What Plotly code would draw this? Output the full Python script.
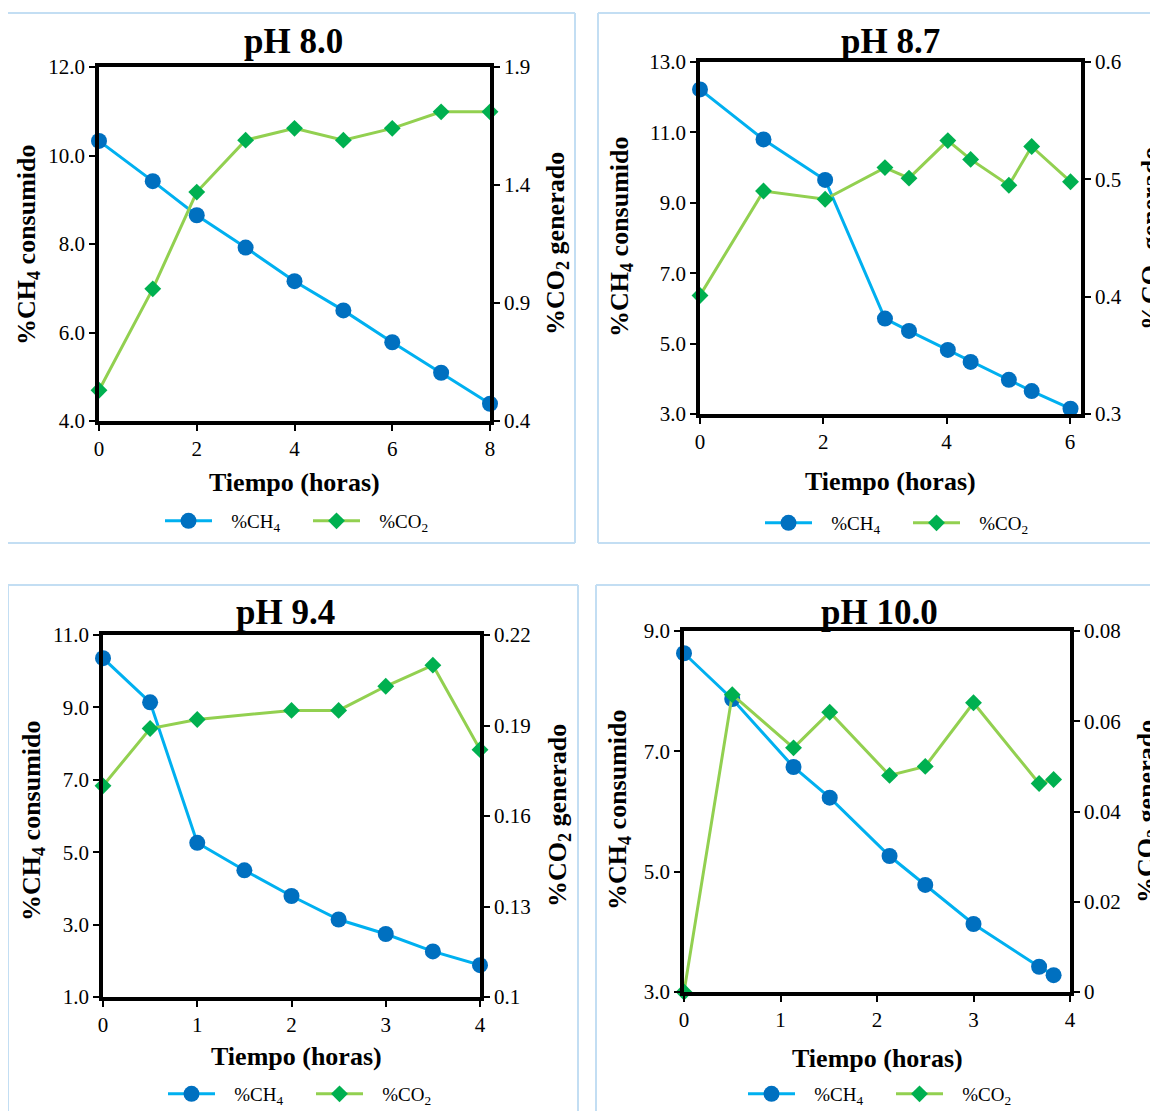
import plotly.graph_objects as go

# ---------------- data ----------------
# pH 8.0
t80 = [0, 1.1, 2, 3, 4, 5, 6, 7, 8]
ch4_80 = [10.33, 9.42, 8.65, 7.92, 7.16, 6.50, 5.78, 5.09, 4.39]
co2_80 = [0.53, 0.96, 1.37, 1.59, 1.64, 1.59, 1.64, 1.71, 1.71]

# pH 8.7
t87 = [0, 1.03, 2.03, 3.0, 3.39, 4.02, 4.39, 5.01, 5.38, 6.01]
ch4_87 = [12.22, 10.80, 9.65, 5.71, 5.36, 4.82, 4.48, 3.97, 3.65, 3.15]
co2_87 = [0.401, 0.490, 0.483, 0.510, 0.501, 0.533, 0.517, 0.495, 0.528, 0.498]

# pH 9.4
t94_ch4 = [0, 0.5, 1, 1.5, 2, 2.5, 3, 3.5, 4]
ch4_94 = [10.36, 9.14, 5.26, 4.50, 3.79, 3.14, 2.74, 2.26, 1.88]
t94_co2 = [0, 0.5, 1, 2, 2.5, 3, 3.5, 4]
co2_94 = [0.170, 0.189, 0.192, 0.195, 0.195, 0.203, 0.210, 0.182]

# pH 10.0
t100 = [0, 0.5, 1.135, 1.51, 2.13, 2.5, 3.0, 3.68, 3.83]
ch4_100 = [8.63, 7.87, 6.74, 6.23, 5.26, 4.78, 4.13, 3.42, 3.28]
co2_100 = [0.0, 0.0659, 0.0541, 0.062, 0.048, 0.050, 0.0641, 0.0462, 0.0471]

titles = ["pH 8.0", "pH 8.7", "pH 9.4", "pH 10.0"]
ch4_name = "%CH<sub>4</sub>"
co2_name = "%CO<sub>2</sub>"
xlabel = "Tiempo (horas)"
ylabel_l = "%CH<sub>4</sub> consumido"
ylabel_r = "%CO<sub>2</sub> generado"

# ---------------- layout helpers ----------------
OFF = 8  # page body margin offset
W, H = 1158 - OFF, 1111 - OFF
FONT = "Liberation Serif, Times New Roman, serif"
def px(x): return (x - OFF) / W
def py(y): return 1 - (y - OFF) / H

CH4_LINE, CH4_MARK = "#00B0F0", "#0070C0"
CO2_LINE, CO2_MARK = "#92D050", "#00B050"
BOX_COLOR = "#C3DEF3"
NBSP = "\u00a0\u00a0\u00a0"

panels = [
    dict(t_ch4=t80, ch4=ch4_80, t_co2=t80, co2=co2_80,
         plot=(99, 490, 67, 421), xr=[0, 8], xd=2,
         yl=[4, 12], yl0=4, yld=2, yr=[0.4, 1.9], yr0=0.4, yrd=0.5, yrfmt=".1f",
         box=(7, 575, 13, 543), sides="tlbr", title=(293, 42), xt=(294, 482),
         ytl=(28, 245), ytr=(557, 244), leg=(160, 521)),
    dict(t_ch4=t87, ch4=ch4_87, t_co2=t87, co2=co2_87,
         plot=(700, 1081, 62, 414), xr=[0, 6.18], xd=2,
         yl=[3, 13], yl0=3, yld=2, yr=[0.3, 0.6], yr0=0.3, yrd=0.1, yrfmt=".1f",
         box=(598, 1160, 13, 543), sides="tlb", title=(890, 41), xt=(890, 481),
         ytl=(621, 237), ytr=(1152, 239), leg=(760, 523)),
    dict(t_ch4=t94_ch4, ch4=ch4_94, t_co2=t94_co2, co2=co2_94,
         plot=(103, 480, 635, 997), xr=[0, 4], xd=1,
         yl=[1, 11], yl0=1, yld=2, yr=[0.1, 0.22], yr0=0.1, yrd=0.03, yrfmt="",
         box=(8, 578, 585, 1115), sides="tlr", title=(285, 612), xt=(296, 1056),
         ytl=(33, 821), ytr=(559, 816), leg=(163, 1094)),
    dict(t_ch4=t100, ch4=ch4_100, t_co2=t100, co2=co2_100,
         plot=(684, 1070, 631, 992), xr=[0, 4], xd=1,
         yl=[3, 9], yl0=3, yld=2, yr=[0, 0.08], yr0=0, yrd=0.02, yrfmt="",
         box=(596, 1160, 585, 1115), sides="tl", title=(879, 612), xt=(877, 1058),
         ytl=(619, 810), ytr=(1148, 812), leg=(743, 1094)),
]

fig = go.Figure()
layout = dict(width=W, height=H, autosize=False,
              margin=dict(l=0, r=0, t=0, b=0, pad=0, autoexpand=False),
              paper_bgcolor="white", plot_bgcolor="white",
              font=dict(family=FONT, color="black", size=21),
              showlegend=True)
shapes, annotations = [], []

tickfont = dict(family=FONT, size=21, color="black")
axis_common = dict(showline=True, linecolor="black", linewidth=3.5,
                   ticks="outside", ticklen=6, tickwidth=2, tickcolor="black",
                   showgrid=False, zeroline=False, tickfont=tickfont, automargin=False)

def box_line(xa, ya, xb, yb):
    return dict(type="line", xref="paper", yref="paper",
                x0=px(xa), y0=py(ya), x1=px(xb), y1=py(yb),
                line=dict(color=BOX_COLOR, width=2), layer="below")

for i, p in enumerate(panels):
    n = i + 1
    xa = "x" if n == 1 else f"x{n}"
    yl_idx = 2 * i + 1
    yr_idx = 2 * i + 2
    yla = "y" if yl_idx == 1 else f"y{yl_idx}"
    yra = f"y{yr_idx}"
    leg = "legend" if n == 1 else f"legend{n}"

    fig.add_trace(go.Scatter(x=p["t_ch4"], y=p["ch4"], name=NBSP + ch4_name, mode="lines+markers",
                             line=dict(color=CH4_LINE, width=3),
                             marker=dict(symbol="circle", size=16, color=CH4_MARK),
                             xaxis=xa, yaxis=yla, legend=leg, cliponaxis=False))
    fig.add_trace(go.Scatter(x=p["t_co2"], y=p["co2"], name=NBSP + co2_name, mode="lines+markers",
                             line=dict(color=CO2_LINE, width=3),
                             marker=dict(symbol="diamond", size=13, color=CO2_MARK),
                             xaxis=xa, yaxis=yra, legend=leg, cliponaxis=False))

    x0, x1, y0, y1 = p["plot"]
    xkey = "xaxis" if n == 1 else f"xaxis{n}"
    ylkey = "yaxis" if yl_idx == 1 else f"yaxis{yl_idx}"
    yrkey = f"yaxis{yr_idx}"
    layout[xkey] = dict(axis_common, domain=[px(x0), px(x1)], range=p["xr"],
                        tick0=0, dtick=p["xd"], anchor=yla, mirror=True)
    layout[ylkey] = dict(axis_common, domain=[py(y1), py(y0)], range=p["yl"],
                         tick0=p["yl0"], dtick=p["yld"], tickformat=".1f", anchor=xa)
    layout[yrkey] = dict(axis_common, range=p["yr"], tick0=p["yr0"], dtick=p["yrd"],
                         tickformat=p["yrfmt"], overlaying=yla, side="right", anchor=xa)

    lx, ly = p["leg"]
    layout[leg] = dict(orientation="h", x=px(lx), y=py(ly), xanchor="left", yanchor="middle",
                       font=dict(family=FONT, size=19, color="black"),
                       bgcolor="rgba(0,0,0,0)", itemwidth=47, entrywidth=86,
                       entrywidthmode="pixels", tracegroupgap=0)

    bx0, bx1, by0, by1 = p["box"]
    if "t" in p["sides"]:
        shapes.append(box_line(bx0, by0, bx1, by0))
    if "l" in p["sides"]:
        shapes.append(box_line(bx0, by0, bx0, by1))
    if "b" in p["sides"]:
        shapes.append(box_line(bx0, by1, bx1, by1))
    if "r" in p["sides"]:
        shapes.append(box_line(bx1, by0, bx1, by1))

    tx, ty = p["title"]
    annotations.append(dict(text=titles[i], x=px(tx), y=py(ty), xref="paper", yref="paper",
                            xanchor="center", yanchor="middle", showarrow=False,
                            font=dict(family=FONT, size=35, color="black", weight="bold")))
    ax_, ay_ = p["xt"]
    annotations.append(dict(text=xlabel, x=px(ax_), y=py(ay_), xref="paper", yref="paper",
                            xanchor="center", yanchor="middle", showarrow=False,
                            font=dict(family=FONT, size=26, color="black", weight="bold")))
    lx_, ly_ = p["ytl"]
    annotations.append(dict(text=ylabel_l, x=px(lx_), y=py(ly_), xref="paper", yref="paper",
                            xanchor="center", yanchor="middle", showarrow=False, textangle=-90,
                            font=dict(family=FONT, size=26, color="black", weight="bold")))
    rx_, ry_ = p["ytr"]
    annotations.append(dict(text=ylabel_r, x=px(rx_), y=py(ry_), xref="paper", yref="paper",
                            xanchor="center", yanchor="middle", showarrow=False, textangle=-90,
                            font=dict(family=FONT, size=26, color="black", weight="bold")))

layout["shapes"] = shapes
layout["annotations"] = annotations
fig.update_layout(**layout)
fig.write_html("out.html")
